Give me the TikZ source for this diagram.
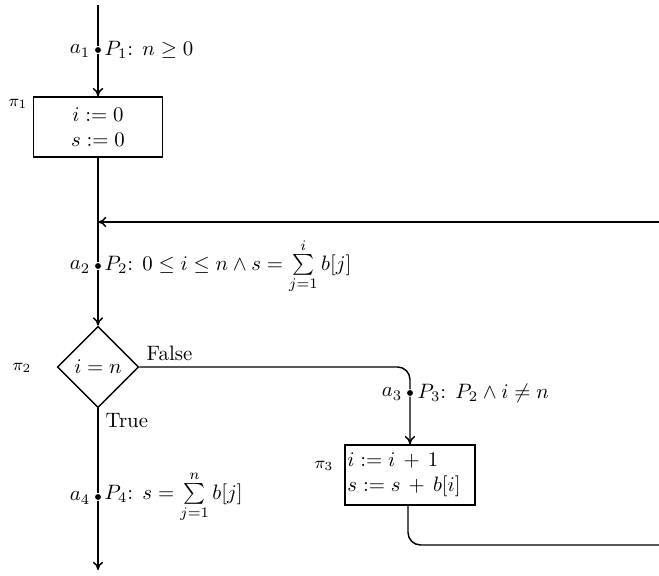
\documentclass[tikz,border=0pt]{standalone}
\usetikzlibrary{shapes.geometric, arrows.meta}
\begin{document}
\begin{tikzpicture}[x=0.48pt, y=-0.48pt, line width=0.7pt,
  flow/.style={-{To[length=4pt,width=5pt]}},
  stmt/.style={draw, rectangle, inner sep=1pt, minimum width=62pt, minimum height=28.8pt},
  test/.style={draw, diamond, inner sep=0pt, minimum width=39pt, minimum height=39pt},
  cutpoint/.style={circle, fill, inner sep=0pt, minimum size=2.8pt},
  tag/.style={font=\footnotesize, inner sep=0pt},
  note/.style={inner sep=0pt}]
\useasboundingbox (0,0) rectangle (659,576);

% flowchart boxes
\node[stmt, align=center] (init) at (98,127) {$i := 0$\\ $s := 0$};
\node[test] (cond) at (98,367) {$i = n$};
\node[stmt, text width=60pt, align=left, minimum width=62.4pt] (body) at (410,475)
  {$i := i\,+\,1$\\ $s := s\,+\,b[i]$};

% statement names
\node[tag] (pi1) at (18,104) {$\pi_1$};
\node[tag] (pi2) at (22,368) {$\pi_2$};
\node[tag] (pi3) at (324,466) {$\pi_3$};

% free ends of the connectors
\coordinate (start) at (98,5);
\coordinate (join) at (98,222);
\coordinate (stop) at (98,570);
\coordinate (turn) at (410,367);
\coordinate (low) at (408,545);
\coordinate (backin) at (659,222);
\coordinate (backout) at (659,545);

% cut points with their assertions
\node[cutpoint] (c1) at (98,50) {};
\node[cutpoint] (c2) at (98,266) {};
\node[cutpoint] (c3) at (410,393) {};
\node[cutpoint] (c4) at (98,497) {};

\node[note, anchor=east] (a1) at (91,51) {$a_1$};
\node[note, anchor=west] (p1) at (104,50) {$P_1$: $n \ge 0$};
\node[note, anchor=east] (a2) at (91,267) {$a_2$};
\node[note, anchor=west] (p2) at (104,266) {$P_2$: $0 \le i \le n \wedge s = \sum\limits_{j=1}^{i} b[j]$};
\node[note, anchor=east] (a3) at (403,394) {$a_3$};
\node[note, anchor=west] (p3) at (417,393) {$P_3$: $P_2 \wedge i \ne n$};
\node[note, anchor=east] (a4) at (91,498) {$a_4$};
\node[note, anchor=west] (p4) at (104,497) {$P_4$: $s = \sum\limits_{j=1}^{n} b[j]$};

% branch labels
\node[note, anchor=west] (no) at (146,353) {False};
\node[note, anchor=west] (yes) at (105,421) {True};

% connectors
\draw[flow] (start) -- (c1) -- (init.north);
\draw (init.south) -- (join);
\draw[flow] (join) -- (c2) -- (cond.north);
\draw[flow] (backin) -- (join);
\draw[flow] (cond.south) -- (c4) -- (stop);
\draw[flow, rounded corners=6pt] (cond.east) -- (turn) -- (c3) -- (body.north);
\draw[rounded corners=6pt] (body.south -| low) -- (low) -- (backout);
\end{tikzpicture}
\end{document}
